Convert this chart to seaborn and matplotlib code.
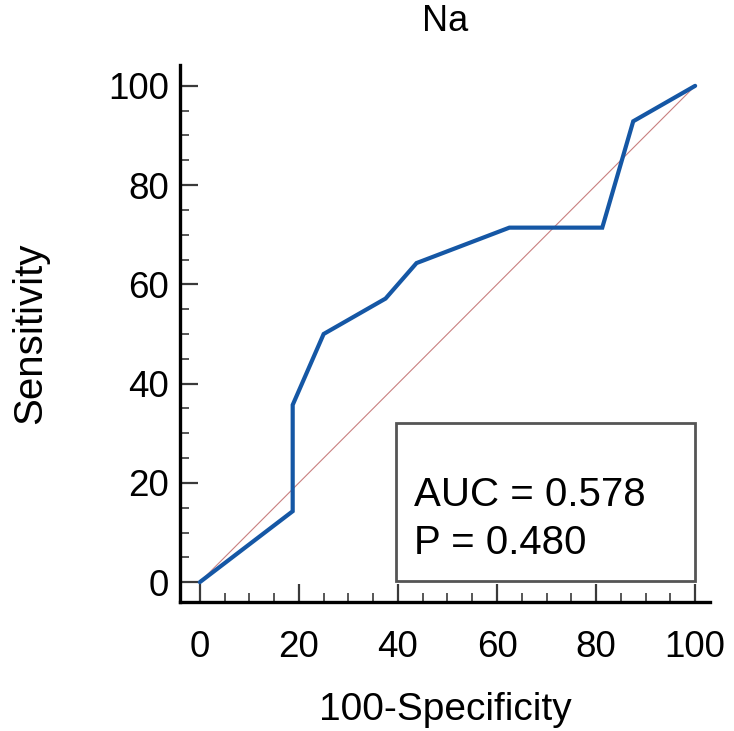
import numpy as np
import pandas as pd
import matplotlib
matplotlib.use("Agg")
import matplotlib.pyplot as plt
import seaborn as sns
from matplotlib.ticker import MultipleLocator
from matplotlib.patches import Rectangle

# ROC data (100-Specificity, Sensitivity)
fpr = [0, 18.75, 18.75, 25.0, 37.5, 43.75, 62.5, 81.25, 87.5, 100]
tpr = [0, 14.29, 35.71, 50.0, 57.14, 64.29, 71.43, 71.43, 92.86, 100]
ref_x = [0, 100]
ref_y = [0, 100]
title = "Na"
auc_text = "AUC = 0.578"
p_text = "P = 0.480"
xticks = [0, 20, 40, 60, 80, 100]
yticks = [0, 20, 40, 60, 80, 100]

sns.set_style("ticks")
plt.rcParams['font.family'] = ['Liberation Sans', 'DejaVu Sans']
plt.rcParams['text.color'] = 'black'
plt.rcParams['axes.labelcolor'] = 'black'

fig = plt.figure(figsize=(7.34, 7.31), dpi=100)
ax = fig.add_axes([180/734, 1 - 602/731, (710 - 180)/734, (602 - 65)/731])

df = pd.DataFrame({"x": fpr, "y": tpr})
dref = pd.DataFrame({"x": ref_x, "y": ref_y})
sns.lineplot(data=dref, x="x", y="y", ax=ax, color="#c98080", lw=0.8,
             estimator=None, sort=False)
sns.lineplot(data=df, x="x", y="y", ax=ax, color="#1557a5", lw=3.0,
             estimator=None, sort=False, solid_joinstyle="miter")

ax.set_xlim(-4, 103)
ax.set_ylim(-4, 104.2)
ax.set_xticks(xticks)
ax.set_yticks(yticks)
ax.xaxis.set_minor_locator(MultipleLocator(5))
ax.yaxis.set_minor_locator(MultipleLocator(5))
ax.tick_params(which="major", direction="in", length=13, width=1.6,
               color="#3a3a3a", labelsize=26.5, labelcolor="black")
ax.tick_params(which="minor", direction="in", length=6.5, width=1.2,
               color="#3a3a3a")
ax.tick_params(axis="x", which="major", pad=20)
ax.tick_params(axis="y", which="major", pad=8)
for s in ["top", "right"]:
    ax.spines[s].set_visible(False)
for s in ["left", "bottom"]:
    ax.spines[s].set_linewidth(2.4)
    ax.spines[s].set_color("black")

ax.set_xlabel("100-Specificity", fontsize=28, color="black")
ax.set_ylabel("Sensitivity", fontsize=29, color="black")
ax.xaxis.set_label_coords(0.5, -(710 - 602) / (602 - 65), transform=ax.transAxes)
ax.yaxis.set_label_coords(-(180 - 30) / (710 - 180), 0.5, transform=ax.transAxes)
ax.xaxis.label.set_va("center")
ax.yaxis.label.set_va("center")
ax.set_title(title, fontsize=26, color="black", y=1 + (65 - 30) / (602 - 65),
             va="center")

box = Rectangle((39.6, 0.2), 60.4, 31.9, fill=False, edgecolor="#555555",
                lw=2.0, zorder=5)
ax.add_patch(box)
ax.text(43.3, 17.6, auc_text, fontsize=29, va="center", ha="left", zorder=6)
ax.text(43.3, 7.9, p_text, fontsize=29, va="center", ha="left", zorder=6)

fig.savefig("out.png", dpi=100)
